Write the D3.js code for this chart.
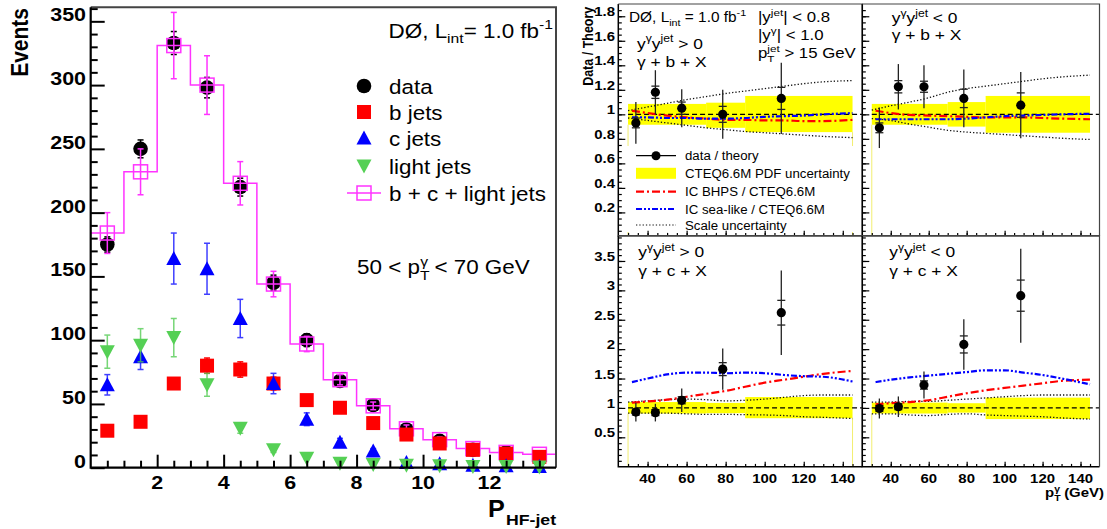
<!DOCTYPE html>
<html>
<head>
<meta charset="utf-8">
<script src="https://cdn.jsdelivr.net/npm/d3@7"></script>
<style>
body { margin: 0; background: #fff; }
text { font-family: "Liberation Sans", Arial, Helvetica, sans-serif; }
</style>
</head>
<body>
<svg id="chart" width="1107" height="529"></svg>
<script>
// ---- left plot: P_HF-jet template fit, 50 < pT < 70 GeV ----
var binCenters = [0.5, 1.5, 2.5, 3.5, 4.5, 5.5, 6.5, 7.5, 8.5, 9.5, 10.5, 11.5, 12.5, 13.5];
var dataVals  = [175, 250, 333, 298, 220, 145, 100, 68, 49, 30, 21, 14, 12, 7];
var dataErr   = [6, 7, 9, 8, 7, 6, 5, 4, 4, 3, 3, 3, 3, 2];
var bVals     = [29, 36, 66, 80, 77, 66, 53, 47, 35, 26, 19, 14, 11, 8.5];
var bErr      = [3, 3, 4, 6, 6, 5, 4, 3, 3, 2, 2, 2, 2, 2];
var cVals     = [65, 87, 164, 156, 117, 66, 38, 20, 13, 4, 3, 2, 1.5, 1];
var cErr      = [8, 10, 20, 20, 15, 8, 5, 3, 2, 1, 1, 1, 1, 1];
var lightVals = [91, 96, 102, 65, 31, 14, 7.5, 3.5, 2.5, 2, 1.5, 1, 1, 0.5];
var lightErr  = [13, 13, 15, 9, 4, 2, 1, 1, 1, 1, 1, 1, 1, 1];
var sumVals   = [184, 232, 331, 300, 223, 144, 97, 69, 48.5, 30.5, 22, 15, 12, 10.5];
var sumErr    = [16, 18, 26, 23, 17, 10, 6, 4, 3, 3, 2, 2, 2, 2];
var leftYTicks = [0, 50, 100, 150, 200, 250, 300, 350];
var leftXTicks = [2, 4, 6, 8, 10, 12];

// ---- right plots: data / theory vs pT ----
var ptPoints  = [34, 44, 57.5, 78.5, 108.5];
var bandEdges = [30, 70, 90, 145];
var curveX    = [32, 40, 50, 60, 70, 80, 90, 100, 110, 120, 130, 145];
var scaleX    = [30, 40, 50, 60, 70, 80, 90, 100, 110, 120, 130, 145];
var ratioXTicks = [40, 60, 80, 100, 120, 140];

// gamma + b + X, y*y > 0
var bPosVals = [0.93, 1.18, 1.05, 1.0, 1.13];
var bPosTot  = [0.17, 0.18, 0.155, 0.2, 0.29];
var bPosStat = [0.04, 0.05, 0.05, 0.065, 0.09];
var bPosLo   = [0.915, 0.89, 0.855];
var bPosHi   = [1.085, 1.095, 1.15];
var bPosUp   = [1.03, 1.06, 1.09, 1.12, 1.145, 1.17, 1.19, 1.21, 1.23, 1.25, 1.265, 1.275];
var bPosDn   = [0.97, 0.95, 0.93, 0.91, 0.89, 0.875, 0.86, 0.85, 0.84, 0.83, 0.82, 0.81];
var bPosBhps = [1.03, 1.01, 0.99, 0.975, 0.965, 0.955, 0.955, 0.95, 0.95, 0.945, 0.945, 0.955];
var bPosSea  = [0.975, 0.975, 0.97, 0.97, 0.965, 0.965, 0.97, 0.98, 0.985, 0.99, 1.0, 1.01];
// gamma + b + X, y*y < 0
var bNegVals = [0.89, 1.225, 1.225, 1.13, 1.075];
var bNegTot  = [0.165, 0.185, 0.175, 0.235, 0.27];
var bNegStat = [0.04, 0.05, 0.045, 0.075, 0.1];
var bNegLo   = [0.915, 0.9, 0.85];
var bNegHi   = [1.085, 1.1, 1.15];
var bNegUp   = [1.035, 1.07, 1.1, 1.135, 1.18, 1.21, 1.23, 1.25, 1.27, 1.29, 1.305, 1.32];
var bNegDn   = [0.965, 0.95, 0.92, 0.895, 0.87, 0.855, 0.845, 0.835, 0.825, 0.815, 0.805, 0.795];
var bNegBhps = [1.03, 1.01, 0.995, 0.99, 0.985, 0.98, 0.975, 0.975, 0.975, 0.97, 0.965, 0.96];
var bNegSea  = [0.96, 0.96, 0.96, 0.96, 0.96, 0.965, 0.975, 0.985, 0.99, 0.995, 1.0, 1.005];
// gamma + c + X, y*y > 0
var cPosVals = [0.93, 0.92, 1.13, 1.66, 2.62];
var cPosTot  = [0.16, 0.15, 0.2, 0.35, 0.72];
var cPosStat = [0.05, 0.05, 0.06, 0.11, 0.21];
var cPosLo   = [0.905, 0.91, 0.825];
var cPosHi   = [1.1, 1.085, 1.185];
var cPosUp   = [1.1, 1.12, 1.14, 1.15, 1.14, 1.12, 1.13, 1.15, 1.18, 1.21, 1.22, 1.22];
var cPosDn   = [0.91, 0.91, 0.91, 0.9, 0.89, 0.89, 0.885, 0.88, 0.87, 0.85, 0.84, 0.82];
var cPosBhps = [1.09, 1.11, 1.14, 1.19, 1.24, 1.29, 1.36, 1.43, 1.48, 1.53, 1.58, 1.63];
var cPosSea  = [1.44, 1.5, 1.57, 1.6, 1.6, 1.59, 1.6, 1.59, 1.56, 1.54, 1.53, 1.45];
// gamma + c + X, y*y < 0
var cNegVals = [0.99, 1.02, 1.39, 2.08, 2.91];
var cNegTot  = [0.17, 0.175, 0.23, 0.43, 0.8];
var cNegStat = [0.05, 0.05, 0.07, 0.145, 0.265];
var cNegLo   = [0.905, 0.92, 0.81];
var cNegHi   = [1.09, 1.08, 1.175];
var cNegUp   = [1.1, 1.1, 1.11, 1.11, 1.13, 1.15, 1.17, 1.19, 1.21, 1.22, 1.22, 1.22];
var cNegDn   = [0.9, 0.9, 0.88, 0.87, 0.89, 0.9, 0.88, 0.87, 0.86, 0.85, 0.83, 0.81];
var cNegBhps = [1.06, 1.08, 1.1, 1.13, 1.19, 1.25, 1.3, 1.34, 1.38, 1.42, 1.46, 1.48];
var cNegSea  = [1.44, 1.48, 1.52, 1.55, 1.58, 1.61, 1.64, 1.64, 1.6, 1.56, 1.5, 1.4];

var svg = d3.select('#chart');
var SX = 1.15;   // the reference text is a bit stretched sideways

// text with sub/superscripts; parts are strings or [text, 'sub'|'sup', dx]
function label(g, x, y, parts, o) {
    o = o || {};
    var size = o.size || 13, sx = o.sx || SX;
    var tr = 'translate(' + x + ',' + y + ') scale(' + sx + ',1)' + (o.rotate ? ' rotate(' + o.rotate + ')' : '');
    var t = g.append('text').attr('transform', tr)
        .attr('text-anchor', o.anchor || 'start')
        .attr('dy', o.dy || 0)
        .style('font-size', size + 'px')
        .style('font-weight', o.weight || 'normal')
        .attr('fill', o.fill || '#000');
    var shift = 0;
    parts.forEach(function (p) {
        if (typeof p === 'string') p = [p];
        var target = p[1] === 'sub' ? 0.3 * size : (p[1] === 'sup' ? -0.42 * size : 0);
        var s = t.append('tspan').text(p[0]).attr('dy', target - shift);
        shift = target;
        if (p[1]) s.style('font-size', (0.7 * size) + 'px');
        if (p[2]) s.attr('dx', p[2]);
    });
    return t;
}

function tickSet(g, axis, scale, vals, size, width, transform) {
    var s = g.append('g').attr('transform', transform)
        .call(axis(scale).tickValues(vals).tickSize(size).tickSizeOuter(0).tickFormat(''));
    s.select('.domain').remove();
    s.selectAll('line').attr('stroke', '#000').attr('stroke-width', width);
    return s;
}

// ================= LEFT PLOT =================
var L = {x0: 90.7, x1: 556, y0: 7.3, y1: 467.7};
var xL = d3.scaleLinear().domain([0, 14]).range([L.x0, L.x1]);
var yL = d3.scaleLinear().domain([0, 361]).range([L.y1, L.y0]);
var gL = svg.append('g');

function errBars(g, xs, ys, vals, errs, color, cap, width, opacity) {
    binCenters.forEach(function (c, i) {
        var x = xs(c), ylo = ys(vals[i] - errs[i]), yhi = ys(vals[i] + errs[i]);
        var sg = g.append('g').attr('stroke', color).attr('stroke-width', width).attr('opacity', opacity || 1);
        sg.append('line').attr('x1', x).attr('x2', x).attr('y1', ylo).attr('y2', yhi);
        sg.append('line').attr('x1', x - cap).attr('x2', x + cap).attr('y1', ylo).attr('y2', ylo);
        sg.append('line').attr('x1', x - cap).attr('x2', x + cap).attr('y1', yhi).attr('y2', yhi);
    });
}
function triPath(x, y, up, h) {
    var s = up ? 1 : -1;
    return 'M' + (x - h) + ',' + (y + s * (h - 1)) + 'L' + (x + h) + ',' + (y + s * (h - 1)) + 'L' + x + ',' + (y - s * h) + 'Z';
}

// data
errBars(gL, xL, yL, dataVals, dataErr, '#000', 3, 1.5);
gL.selectAll('circle.data').data(dataVals).enter().append('circle')
    .attr('cx', function (d, i) { return xL(binCenters[i]); })
    .attr('cy', function (d) { return yL(d); })
    .attr('r', 7.3).attr('fill', '#000');

// sum histogram
var stepLine = d3.line().curve(d3.curveStepAfter)
    .x(function (d) { return xL(d[0]); }).y(function (d) { return yL(d[1]); });
var stepPts = binCenters.map(function (c, i) { return [c - 0.5, sumVals[i]]; });
stepPts.push([14, sumVals[sumVals.length - 1]]);
gL.append('path').attr('d', stepLine(stepPts)).attr('fill', 'none')
    .attr('stroke', '#ff33ff').attr('stroke-width', 1.5);
errBars(gL, xL, yL, sumVals, sumErr, '#ff33ff', 3, 1.5);
gL.selectAll('rect.sum').data(sumVals).enter().append('rect')
    .attr('x', function (d, i) { return xL(binCenters[i]) - 7; })
    .attr('y', function (d) { return yL(d) - 7; })
    .attr('width', 14).attr('height', 14)
    .attr('fill', 'none').attr('stroke', '#ff33ff').attr('stroke-width', 1.5);

// b jets
errBars(gL, xL, yL, bVals, bErr, '#ff0000', 3, 1.5);
gL.selectAll('rect.b').data(bVals).enter().append('rect')
    .attr('x', function (d, i) { return xL(binCenters[i]) - 7; })
    .attr('y', function (d) { return yL(d) - 7; })
    .attr('width', 14).attr('height', 14).attr('fill', '#ff0000');

// c jets
errBars(gL, xL, yL, cVals, cErr, '#0000ff', 3, 1.5, 0.75);
gL.selectAll('path.c').data(cVals).enter().append('path')
    .attr('d', function (d, i) { return triPath(xL(binCenters[i]), yL(d), true, 7.5); })
    .attr('fill', '#0000ff');

// light jets
errBars(gL, xL, yL, lightVals, lightErr, '#55cc55', 3, 1.5, 0.8);
gL.selectAll('path.l').data(lightVals).enter().append('path')
    .attr('d', function (d, i) { return triPath(xL(binCenters[i]), yL(d), false, 7.5); })
    .attr('fill', '#55d055');

// axes of the left plot
tickSet(gL, d3.axisLeft, yL, leftYTicks, -14, 2, 'translate(' + L.x0 + ',0)');
tickSet(gL, d3.axisLeft, yL, d3.range(10, 361, 10).filter(function (v) { return v % 50; }), -7, 2, 'translate(' + L.x0 + ',0)');
tickSet(gL, d3.axisBottom, xL, leftXTicks, -13, 2, 'translate(0,' + L.y1 + ')');
tickSet(gL, d3.axisBottom, xL, d3.range(0.5, 14, 0.5).filter(function (v) { return v % 2; }), -7, 2, 'translate(0,' + L.y1 + ')');
gL.append('path').attr('d', 'M' + L.x0 + ',' + L.y0 + 'H' + L.x1 + 'V' + L.y1)
    .attr('fill', 'none').attr('stroke', '#444').attr('stroke-width', 2);
gL.append('path').attr('d', 'M' + L.x0 + ',' + L.y0 + 'V' + L.y1 + 'H' + L.x1)
    .attr('fill', 'none').attr('stroke', '#000').attr('stroke-width', 2.2);
leftYTicks.forEach(function (v) {
    label(gL, 86, yL(v), [String(v)], {size: 19, weight: 'bold', anchor: 'end', dy: '0.36em', sx: 1.13});
});
leftXTicks.forEach(function (v) {
    label(gL, xL(v), 489, [String(v)], {size: 19, weight: 'bold', anchor: 'middle', sx: 1.13});
});
label(gL, 28, 8, ['Events'], {size: 21, weight: 'bold', anchor: 'end', rotate: -90});
label(gL, 488, 517, ['P'], {size: 24, weight: 'bold', sx: 1.05});
label(gL, 506, 524.5, ['HF-jet'], {size: 15, weight: 'bold', sx: 1.18});

label(gL, 553, 37.5, ['DØ, L', ['int', 'sub'], '= 1.0 fb', ['-1', 'sup']], {size: 19.5, anchor: 'end'});
label(gL, 357, 274, ['50 < p', ['T', 'sub'], ['γ', 'sup', -8], ' < 70 GeV'], {size: 19.5});

// legend of the left plot
var legRows = [86, 112, 138, 166, 193];
var legNames = ['data', 'b jets', 'c jets', 'light jets', 'b + c + light jets'];
gL.append('circle').attr('cx', 364).attr('cy', legRows[0]).attr('r', 7.3).attr('fill', '#000');
gL.append('rect').attr('x', 357).attr('y', legRows[1] - 7).attr('width', 14).attr('height', 14).attr('fill', '#ff0000');
gL.append('path').attr('d', triPath(364, legRows[2], true, 7.5)).attr('fill', '#0000ff');
gL.append('path').attr('d', triPath(364, legRows[3], false, 7.5)).attr('fill', '#55d055');
gL.append('line').attr('x1', 347).attr('x2', 381).attr('y1', legRows[4]).attr('y2', legRows[4])
    .attr('stroke', '#ff33ff').attr('stroke-width', 1.5);
gL.append('rect').attr('x', 357).attr('y', legRows[4] - 7).attr('width', 14).attr('height', 14)
    .attr('fill', 'none').attr('stroke', '#ff33ff').attr('stroke-width', 1.5);
legNames.forEach(function (n, i) {
    label(gL, 389, legRows[i] + 7.5, [n], {size: 19.5});
});

// ================= RIGHT PLOTS =================
var panels = [
    {x0: 618.3, x1: 862.3, y0: 4, y1: 235.7, yd: [0.01, 1.9], top: true, left: true,
     vals: bPosVals, tot: bPosTot, stat: bPosStat, lo: bPosLo, hi: bPosHi, up: bPosUp, dn: bPosDn, bhps: bPosBhps, sea: bPosSea},
    {x0: 862.3, x1: 1099.5, y0: 4, y1: 235.7, yd: [0.01, 1.9], top: true, left: false,
     vals: bNegVals, tot: bNegTot, stat: bNegStat, lo: bNegLo, hi: bNegHi, up: bNegUp, dn: bNegDn, bhps: bNegBhps, sea: bNegSea},
    {x0: 618.3, x1: 862.3, y0: 235.7, y1: 466.7, yd: [0, 3.93], top: false, left: true,
     vals: cPosVals, tot: cPosTot, stat: cPosStat, lo: cPosLo, hi: cPosHi, up: cPosUp, dn: cPosDn, bhps: cPosBhps, sea: cPosSea},
    {x0: 862.3, x1: 1099.5, y0: 235.7, y1: 466.7, yd: [0, 3.93], top: false, left: false,
     vals: cNegVals, tot: cNegTot, stat: cNegStat, lo: cNegLo, hi: cNegHi, up: cNegUp, dn: cNegDn, bhps: cNegBhps, sea: cNegSea}
];
var gR = svg.append('g');

panels.forEach(function (p) {
    p.xs = d3.scaleLinear().domain([25, 150]).range([p.x0, p.x1]);
    p.ys = d3.scaleLinear().domain(p.yd).range([p.y1, p.y0]);
    var xs = p.xs, ys = p.ys, g = gR.append('g');

    // PDF band
    p.lo.forEach(function (lo, i) {
        g.append('rect').attr('x', xs(bandEdges[i])).attr('width', xs(bandEdges[i + 1]) - xs(bandEdges[i]))
            .attr('y', ys(p.hi[i])).attr('height', ys(lo) - ys(p.hi[i])).attr('fill', '#ffff00');
    });
    var edges = [[bandEdges[0], p.lo[0]]];
    if (p.left) edges.push([bandEdges[bandEdges.length - 1], p.lo[p.lo.length - 1]]);
    edges.forEach(function (e) {
        g.append('line').attr('x1', xs(e[0])).attr('x2', xs(e[0])).attr('y1', ys(e[1])).attr('y2', p.y1)
            .attr('stroke', '#f2ee70').attr('stroke-width', 1);
    });

    // scale uncertainty
    var sLine = d3.line().curve(d3.curveMonotoneX)
        .x(function (d, i) { return xs(scaleX[i]); }).y(function (d) { return ys(d); });
    [p.up, p.dn].forEach(function (arr) {
        g.append('path').attr('d', sLine(arr)).attr('fill', 'none')
            .attr('stroke', '#111').attr('stroke-width', 1.3).attr('stroke-dasharray', '1.3,2');
    });

    // unity line
    g.append('line').attr('x1', xs(30)).attr('x2', xs(150)).attr('y1', ys(1)).attr('y2', ys(1))
        .attr('stroke', '#000').attr('stroke-width', 1.1).attr('stroke-dasharray', '5,3');

    // intrinsic charm models
    var cLine = d3.line().curve(d3.curveMonotoneX)
        .x(function (d, i) { return xs(curveX[i]); }).y(function (d) { return ys(d); });
    g.append('path').attr('d', cLine(p.bhps)).attr('fill', 'none')
        .attr('stroke', '#ff0000').attr('stroke-width', 2.2).attr('stroke-dasharray', '8,3,2,3');
    g.append('path').attr('d', cLine(p.sea)).attr('fill', 'none')
        .attr('stroke', '#0000ff').attr('stroke-width', 2.2).attr('stroke-dasharray', '6,2,2,2,2,2');

    // data / theory
    p.vals.forEach(function (v, i) {
        var x = xs(ptPoints[i]);
        var eg = g.append('g').attr('stroke', '#222').attr('stroke-width', 1.3);
        eg.append('line').attr('x1', x).attr('x2', x).attr('y1', ys(v - p.tot[i])).attr('y2', ys(v + p.tot[i]));
        [v - p.stat[i], v + p.stat[i]].forEach(function (s) {
            eg.append('line').attr('x1', x - 4).attr('x2', x + 4).attr('y1', ys(s)).attr('y2', ys(s));
        });
        g.append('circle').attr('cx', x).attr('cy', ys(v)).attr('r', 4.6).attr('fill', '#000');
    });
});

// legend of the top-left panel
var lg = gR.append('g');
lg.append('rect').attr('x', 620).attr('y', 146).attr('width', 240).attr('height', 86).attr('fill', '#fff');
var lRows = [155.7, 173.3, 191.7, 209, 225];
var lNames = ['data / theory', 'CTEQ6.6M PDF uncertainty', 'IC BHPS / CTEQ6.6M', 'IC sea-like / CTEQ6.6M', 'Scale uncertainty'];
lg.append('line').attr('x1', 636).attr('x2', 676).attr('y1', lRows[0]).attr('y2', lRows[0]).attr('stroke', '#000').attr('stroke-width', 1.3);
lg.append('circle').attr('cx', 656).attr('cy', lRows[0]).attr('r', 4.5).attr('fill', '#000');
lg.append('rect').attr('x', 636).attr('y', lRows[1] - 5.5).attr('width', 40).attr('height', 11).attr('fill', '#ffff00');
lg.append('line').attr('x1', 636).attr('x2', 676).attr('y1', lRows[2]).attr('y2', lRows[2])
    .attr('stroke', '#ff0000').attr('stroke-width', 2.2).attr('stroke-dasharray', '8,3,2,3');
lg.append('line').attr('x1', 636).attr('x2', 676).attr('y1', lRows[3]).attr('y2', lRows[3])
    .attr('stroke', '#0000ff').attr('stroke-width', 2.2).attr('stroke-dasharray', '6,2,2,2,2,2');
lg.append('line').attr('x1', 636).attr('x2', 676).attr('y1', lRows[4]).attr('y2', lRows[4])
    .attr('stroke', '#111').attr('stroke-width', 1.2).attr('stroke-dasharray', '1.3,2');
lNames.forEach(function (n, i) {
    label(lg, 685, lRows[i] + 4.5, [n], {size: 12.5, sx: 1.06});
});

// axes of the right panels
panels.forEach(function (p) {
    var g = gR.append('g'), xs = p.xs, ys = p.ys;
    var yMajor = p.top ? [0.2, 0.4, 0.6, 0.8, 1, 1.2, 1.4, 1.6, 1.8] : [0.5, 1, 1.5, 2, 2.5, 3, 3.5];
    var yMinor = p.top ? d3.range(0.05, 1.9, 0.05) : d3.range(0.1, 3.93, 0.1);
    tickSet(g, d3.axisLeft, ys, yMinor, -3.5, 1.2, 'translate(' + p.x0 + ',0)');
    tickSet(g, d3.axisLeft, ys, yMajor, -7, 1.2, 'translate(' + p.x0 + ',0)');
    tickSet(g, d3.axisBottom, xs, d3.range(30, 150, 5), -2.8, 1.2, 'translate(0,' + p.y1 + ')');
    tickSet(g, d3.axisBottom, xs, ratioXTicks, -5, 1.2, 'translate(0,' + p.y1 + ')');
    g.append('path').attr('d', 'M' + p.x0 + ',' + p.y0 + 'V' + p.y1 + 'H' + p.x1)
        .attr('fill', 'none').attr('stroke', '#000').attr('stroke-width', 1.5);
    g.append('path').attr('d', 'M' + p.x0 + ',' + p.y0 + 'H' + p.x1 + 'V' + p.y1)
        .attr('fill', 'none').attr('stroke', '#444').attr('stroke-width', 1.2);
    if (p.left) {
        yMajor.forEach(function (v) {
            label(g, 615, ys(v), [String(v)], {size: 13, weight: 'bold', anchor: 'end', dy: '0.36em', sx: 1.15});
        });
    }
    if (!p.top) {
        ratioXTicks.forEach(function (v) {
            label(g, xs(v), 483, [String(v)], {size: 13, weight: 'bold', anchor: 'middle', sx: 1.15});
        });
    }
});

// panel texts
label(gR, 593, 6.7, ['Data / Theory'], {size: 12.5, weight: 'bold', anchor: 'end', rotate: -90, sx: 1.12});
label(gR, 1104, 497, ['p', ['T', 'sub'], ['γ', 'sup', -5.5], ' (GeV)'], {size: 13, weight: 'bold', anchor: 'end', sx: 1.15});

label(gR, 629, 21.5, ['DØ, L', ['int', 'sub'], ' = 1.0 fb', ['-1', 'sup']], {size: 14, sx: 1.1});
label(gR, 758, 21.5, ['|y', ['jet', 'sup'], '| < 0.8'], {size: 14, sx: 1.2});
label(gR, 758, 39.5, ['|y', ['γ', 'sup'], '| < 1.0'], {size: 14, sx: 1.2});
label(gR, 758, 57.5, ['p', ['T', 'sub'], ['jet', 'sup', -6], ' > 15 GeV'], {size: 14, sx: 1.2});
label(gR, 637, 48.5, ['y', ['γ', 'sup'], 'y', ['jet', 'sup'], ' > 0'], {size: 14.5, sx: 1.2});
label(gR, 637, 66.5, ['γ + b + X'], {size: 14.5, sx: 1.2});
label(gR, 891.7, 22.7, ['y', ['γ', 'sup'], 'y', ['jet', 'sup'], ' < 0'], {size: 14.5, sx: 1.2});
label(gR, 891.7, 39.5, ['γ + b + X'], {size: 14.5, sx: 1.2});
label(gR, 638.3, 256.7, ['y', ['γ', 'sup'], 'y', ['jet', 'sup'], ' > 0'], {size: 14.5, sx: 1.2});
label(gR, 638.3, 276, ['γ + c + X'], {size: 14.5, sx: 1.2});
label(gR, 889.3, 257.3, ['y', ['γ', 'sup'], 'y', ['jet', 'sup'], ' < 0'], {size: 14.5, sx: 1.2});
label(gR, 889.3, 276, ['γ + c + X'], {size: 14.5, sx: 1.2});
</script>
</body>
</html>
